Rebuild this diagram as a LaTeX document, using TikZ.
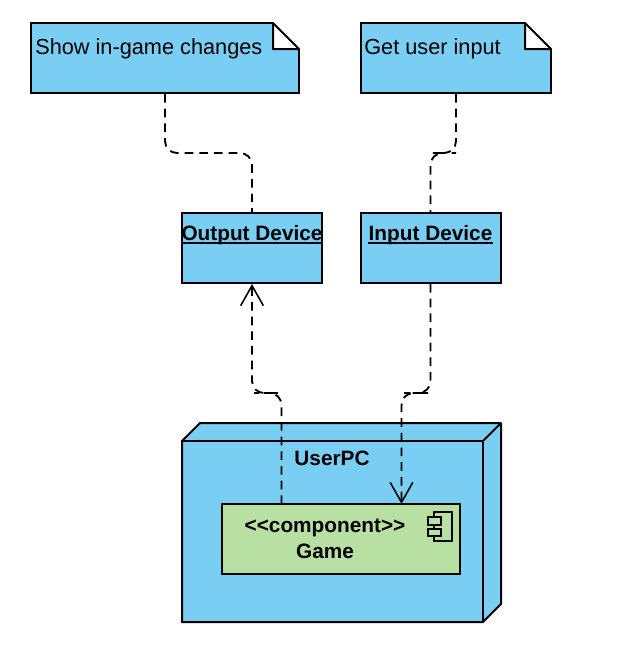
\documentclass[tikz,border=0pt]{standalone}
\usepackage{fontspec}
\setmainfont{Liberation Sans}[Ligatures=NoCommon]
\usetikzlibrary{arrows.meta}
\definecolor{nodeblue}{HTML}{7ACEF4}
\definecolor{compgreen}{HTML}{B8E0A2}
\tikzset{
  box/.style={draw=black,line width=1.5pt,fill=nodeblue,inner sep=0pt,minimum height=52.5pt},
  txt/.style={inner sep=0pt,font=\fontsize{15.6}{18}\selectfont\bfseries},
  notetxt/.style={inner sep=0pt,anchor=west,font=\fontsize{16.3}{19}\selectfont},
  dep/.style={line width=1.4pt,dash pattern=on 6.5pt off 4.5pt,rounded corners=9pt},
  barb/.style={-{Straight Barb[length=15pt,width=17pt,line width=1.2pt]}}
}
\begin{document}
\begin{tikzpicture}[x=0.75pt,y=-0.75pt]
\useasboundingbox (0,0) rectangle (633,658);
% notes
\node[box,minimum width=201pt](showNote) at (165,58){};
\node[box,minimum width=142.5pt](inputNote) at (456,58){};
\fill[white] (272.5,22) rectangle (300,49);
\fill[white] (524.5,22) rectangle (552,49);
\draw[line width=1.5pt,line join=round] (273,23) -- (273,49) -- (299,49) -- cycle;
\draw[line width=1.5pt,line join=round] (525,23) -- (525,49) -- (551,49) -- cycle;
\node[notetxt](showTxt) at (35,49){Show in-game changes};
\node[notetxt](inputTxt) at (364,49){Get user input};
% devices
\node[box,minimum width=105pt](outDev) at (252,248){};
\node[box,minimum width=105pt](inDev) at (430.5,248){};
\node[txt](outTxt) at (252,235){Output Device};
\node[txt](inTxt) at (430.5,235){Input Device};
\draw[line width=1.2pt] ([yshift=-2pt]outTxt.base west) -- ([yshift=-2pt]outTxt.base east);
\draw[line width=1.2pt] ([yshift=-2pt]inTxt.base west) -- ([yshift=-2pt]inTxt.base east);
% the PC
\draw[line width=1.5pt,line join=round,fill=nodeblue] (182,441) -- (200,423) -- (501,423) -- (501,604) -- (483,622) -- (182,622) -- cycle;
\node[box,minimum width=225.75pt,minimum height=135.75pt,fill=none](userPC) at (332.5,531.5){};
\draw[line width=1.5pt] (483,441) -- (501,423);
\node[txt](pcTxt) at (332,458){UserPC};
\node[box,fill=compgreen,minimum width=178.5pt](game) at (341,539){};
\node[txt](gameTxt) at (325,528){{<}{<}component{>}{>}};
\node[txt](gameName) at (325,551){Game};
% component icon
\draw[line width=1pt] (434,512) rectangle (452,541);
\draw[line width=1pt,fill=compgreen] (428,517) rectangle (441,525);
\draw[line width=1pt,fill=compgreen] (428,529) rectangle (441,536);
% connectors
\coordinate (bendA) at (208,153);
\coordinate (bendB) at (444,153);
\coordinate (bendC) at (266,393);
\coordinate (bendD) at (416,393);
\coordinate (gameOut) at (281.5,504);
\coordinate (gameIn) at (401.5,504);
\draw[dep] (showNote.south) |- (bendA) -| (outDev.north);
\draw[dep] (inputNote.south) |- (bendB) -| (inDev.north);
\draw[dep,barb] (gameOut) |- (bendC) -| (outDev.south);
\draw[dep,barb] (inDev.south) |- (bendD) -| (gameIn);
\end{tikzpicture}
\end{document}
